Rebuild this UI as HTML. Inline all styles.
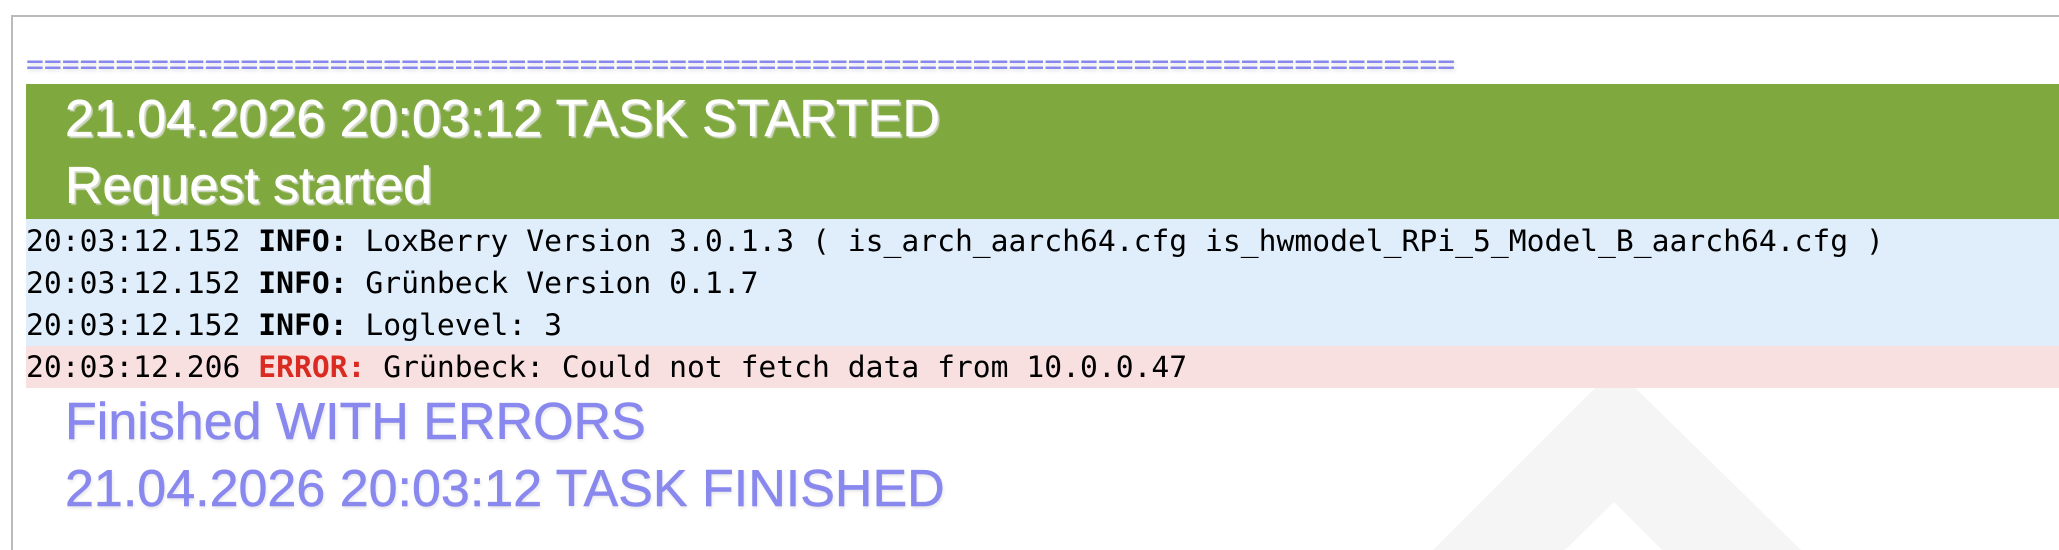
<!DOCTYPE html>
<html><head><meta charset="utf-8"><style>
html,body{margin:0;padding:0;width:2059px;height:550px;overflow:hidden;background:#fff}
#wrap{position:relative;width:2059px;height:550px;overflow:hidden}
.a{position:absolute;white-space:pre}
.box{position:absolute;left:26px;width:2033px}
.h{font-family:"Liberation Sans",Arial,sans-serif;font-size:52px;left:65px;line-height:67px;height:67px;-webkit-text-stroke:.5px currentColor}
.w{color:#fff;text-shadow:2px 2px 1px rgba(225,225,225,.85)}
.bl{color:#8888ee;text-shadow:1px 2px 3px rgba(170,170,170,.3)}
.m{font-family:"DejaVu Sans Mono","Liberation Mono",monospace;font-size:29.68px;left:26px;line-height:42px;color:#000}
.m b{font-weight:bold}
.m i{font-style:normal;font-weight:bold;color:#d92b22}
</style></head><body><div id="wrap">
<div class="a" style="left:11px;top:15px;width:2048px;height:2px;background:#bbb"></div>
<div class="a" style="left:11px;top:15px;width:2px;height:535px;background:#bbb"></div>
<svg class="a" style="left:0;top:0" width="2059" height="550"><polygon points="1615,368 1433,550 1565,550 1614,502 1662,550 1801,550" fill="#f5f5f5"/></svg>
<div class="box" style="top:84px;height:135px;background:#7fa93e"></div>
<div class="box" style="top:219px;height:127px;background:#e0eefc"></div>
<div class="box" style="top:346px;height:42px;background:#f9e0e0"></div>
<div class="a m" style="top:43px;color:#8888ee;text-shadow:1px 2px 3px rgba(170,170,170,.3)">================================================================================</div>
<div class="a h w" style="top:86px">21.04.2026 20:03:12 TASK STARTED</div>
<div class="a h w" style="top:153px">Request started</div>
<div class="a m" style="top:220px">20:03:12.152 <b>INFO:</b> LoxBerry Version 3.0.1.3 ( is_arch_aarch64.cfg is_hwmodel_RPi_5_Model_B_aarch64.cfg )</div>
<div class="a m" style="top:262px">20:03:12.152 <b>INFO:</b> Grünbeck Version 0.1.7</div>
<div class="a m" style="top:304px">20:03:12.152 <b>INFO:</b> Loglevel: 3</div>
<div class="a m" style="top:346px">20:03:12.206 <i>ERROR:</i> Grünbeck: Could not fetch data from 10.0.0.47</div>
<div class="a h bl" style="top:389px">Finished WITH ERRORS</div>
<div class="a h bl" style="top:456px">21.04.2026 20:03:12 TASK FINISHED</div>
</div></body></html>
